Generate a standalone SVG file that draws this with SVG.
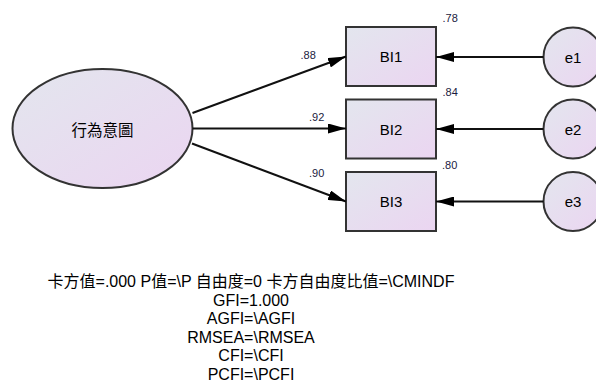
<svg xmlns="http://www.w3.org/2000/svg" width="596" height="383" viewBox="0 0 596 383">
<defs>
<linearGradient id="g" x1="0" y1="0" x2="1" y2="1">
<stop offset="0" stop-color="#e3e6ee"/>
<stop offset="1" stop-color="#ebd5f1"/>
</linearGradient>
<marker id="ah" markerUnits="userSpaceOnUse" markerWidth="18" markerHeight="10" refX="18" refY="5" orient="auto">
<path d="M0,0 L18,5 L0,10 z" fill="#000"/>
</marker>
</defs>
<style>
.shape{fill:url(#g);stroke:#333;stroke-width:2}
.lbl{font-family:"Liberation Sans",Arial,sans-serif;font-size:15px;fill:#000;text-anchor:middle;dominant-baseline:central}
.num{font-family:"Liberation Sans",Arial,sans-serif;font-size:11px;fill:#1a1a40}
.conn line{stroke:#111;stroke-width:2;marker-end:url(#ah)}
.fit{font-family:"Liberation Sans",Arial,"Noto Sans CJK TC",sans-serif;font-size:16px;fill:#000;text-anchor:middle}
</style>
<g id="BI_latent">
<ellipse class="shape" cx="102.5" cy="128.5" rx="90" ry="59.5"/>
<text class="lbl" x="102.5" y="128.5" style="font-family:'Noto Sans CJK TC',sans-serif;font-size:15.5px">行為意圖</text>
</g>
<g id="BI1">
<rect class="shape" x="346" y="27" width="90" height="59"/>
<text class="lbl" x="391" y="56.5">BI1</text>
</g>
<g id="BI2">
<rect class="shape" x="346" y="99.5" width="90" height="59"/>
<text class="lbl" x="391" y="129">BI2</text>
</g>
<g id="BI3">
<rect class="shape" x="346" y="172" width="90" height="59"/>
<text class="lbl" x="391" y="201.5">BI3</text>
</g>
<g id="e1">
<circle class="shape" cx="573" cy="57" r="29.5"/>
<text class="lbl" x="573" y="57">e1</text>
</g>
<g id="e2">
<circle class="shape" cx="573" cy="129" r="29.5"/>
<text class="lbl" x="573" y="129">e2</text>
</g>
<g id="e3">
<circle class="shape" cx="573" cy="201.5" r="29.5"/>
<text class="lbl" x="573" y="201.5">e3</text>
</g>
<g class="conn" id="connectors">
<line x1="192.5" y1="113" x2="346" y2="56.5"/>
<line x1="192.5" y1="128.5" x2="346" y2="128.5"/>
<line x1="192" y1="143.5" x2="346" y2="201.5"/>
<line x1="543.5" y1="57" x2="436" y2="57"/>
<line x1="543.5" y1="129" x2="436" y2="129"/>
<line x1="543.5" y1="201.5" x2="436" y2="201.5"/>
</g>
<g id="labels">
<text class="num" x="300.5" y="59">.88</text>
<text class="num" x="309" y="121">.92</text>
<text class="num" x="309" y="177">.90</text>
<text class="num" x="442.5" y="22">.78</text>
<text class="num" x="442.5" y="95.5">.84</text>
<text class="num" x="442" y="169">.80</text>
</g>
<g id="fit">
<text class="fit" x="251" y="287">卡方值=.000 P值=\P 自由度=0 卡方自由度比值=\CMINDF</text>
<text class="fit" x="251" y="305.5">GFI=1.000</text>
<text class="fit" x="251" y="324">AGFI=\AGFI</text>
<text class="fit" x="251" y="342.5">RMSEA=\RMSEA</text>
<text class="fit" x="251" y="361">CFI=\CFI</text>
<text class="fit" x="251" y="379.5">PCFI=\PCFI</text>
</g>
</svg>
